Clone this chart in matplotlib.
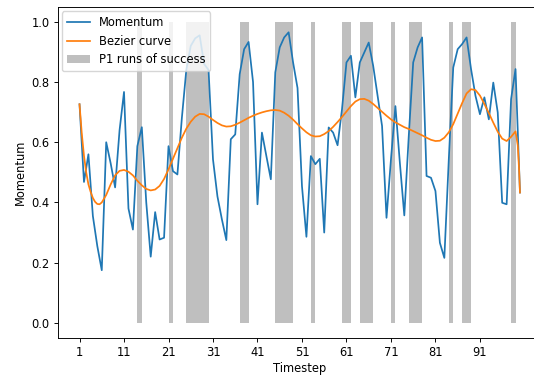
import numpy as np
import matplotlib
matplotlib.use("Agg")
import matplotlib.pyplot as plt

# Momentum per timestep (timesteps 1..100)
momentum = [0.726, 0.468, 0.56, 0.355, 0.255, 0.175, 0.60, 0.53, 0.45, 0.64,
            0.767, 0.38, 0.31, 0.587, 0.65, 0.40, 0.22, 0.368, 0.277, 0.283,
            0.587, 0.504, 0.493, 0.68, 0.84, 0.92, 0.945, 0.955, 0.86, 0.84,
            0.543, 0.42, 0.344, 0.275, 0.61, 0.626, 0.826, 0.909, 0.933, 0.80,
            0.394, 0.632, 0.554, 0.477, 0.832, 0.915, 0.948, 0.965, 0.865, 0.78,
            0.454, 0.286, 0.554, 0.527, 0.545, 0.30, 0.649, 0.632, 0.59, 0.71,
            0.865, 0.887, 0.749, 0.865, 0.898, 0.931, 0.854, 0.754, 0.654, 0.349,
            0.543, 0.72, 0.532, 0.357, 0.62, 0.865, 0.915, 0.948, 0.488, 0.482,
            0.438, 0.266, 0.216, 0.543, 0.848, 0.909, 0.926, 0.948, 0.843, 0.754,
            0.693, 0.749, 0.676, 0.798, 0.699, 0.399, 0.394, 0.743, 0.843, 0.433]

# Bezier curve
bezier_x = [1, 1.5, 2, 2.5, 3, 3.5, 4, 4.5, 5, 5.5, 6, 7, 8, 9, 10, 11, 12, 13,
            14, 15, 16, 17, 18, 19, 20, 21, 22, 23, 24, 25, 26, 27, 28, 29, 30,
            31, 32, 33, 34, 35, 36, 37, 38, 39, 40, 41, 42, 43, 44, 45, 46, 47,
            48, 49, 50, 51, 52, 53, 54, 55, 56, 57, 58, 59, 60, 61, 62, 63, 64,
            65, 66, 67, 68, 69, 70, 71, 72, 73, 74, 75, 76, 77, 78, 79, 80, 81,
            82, 83, 84, 85, 86, 87, 88, 89, 90, 91, 92, 93, 94, 95, 96, 97, 98,
            99, 99.5, 99.8, 100]
bezier_y = [0.726, 0.63, 0.555, 0.50, 0.46, 0.435, 0.415, 0.402, 0.395, 0.394,
            0.40, 0.425, 0.46, 0.49, 0.505, 0.508, 0.502, 0.49, 0.472, 0.457,
            0.445, 0.44, 0.443, 0.455, 0.478, 0.51, 0.545, 0.58, 0.615, 0.645,
            0.668, 0.685, 0.694, 0.693, 0.685, 0.674, 0.664, 0.656, 0.652, 0.653,
            0.658, 0.665, 0.673, 0.681, 0.688, 0.694, 0.699, 0.703, 0.706, 0.707,
            0.705, 0.698, 0.688, 0.675, 0.66, 0.646, 0.633, 0.623, 0.619, 0.62,
            0.627, 0.637, 0.651, 0.667, 0.684, 0.702, 0.72, 0.735, 0.743, 0.744,
            0.738, 0.727, 0.714, 0.701, 0.688, 0.676, 0.666, 0.658, 0.65, 0.644,
            0.637, 0.63, 0.623, 0.615, 0.608, 0.604, 0.605, 0.615, 0.633, 0.66,
            0.695, 0.73, 0.762, 0.776, 0.773, 0.755, 0.727, 0.697, 0.665, 0.635,
            0.612, 0.604, 0.618, 0.636, 0.59, 0.51, 0.433]

# P1 runs of success (first, last timestep of each run)
run_first = [14, 21, 25, 37, 45, 53, 60, 64, 71, 75, 84, 87, 98]
run_last = [15, 22, 30, 39, 49, 54, 62, 67, 72, 78, 85, 89, 99]

xtick_labels = [1, 11, 21, 31, 41, 51, 61, 71, 81, 91]

fs = 8.3
plt.rcParams.update({
    "font.size": fs,
    "axes.linewidth": 0.67,
    "xtick.major.width": 0.67,
    "ytick.major.width": 0.67,
    "xtick.major.size": 2.9,
    "ytick.major.size": 2.9,
    "xtick.major.pad": 2.9,
    "ytick.major.pad": 2.9,
})

fig = plt.figure(figsize=(5.34, 3.8), dpi=100)
ax = fig.add_axes([57.5 / 534, 42 / 380, (542 - 57.5) / 534, (338 - 6.7) / 380])

t = np.arange(1, len(momentum) + 1)
mask = np.zeros(len(t), dtype=bool)
for a, b in zip(run_first, run_last):
    mask[(t >= a) & (t <= b)] = True

ax.plot(t, momentum, color="#1f77b4", lw=1.25, label="Momentum")
ax.plot(bezier_x, bezier_y, color="#ff7f0e", lw=1.25, label="Bezier curve")
ax.fill_between(t, 0, 1, where=mask, color="gray", alpha=0.5, lw=0,
                label="P1 runs of success")

ax.set_xticks(xtick_labels)
ax.set_xticklabels([str(v) for v in xtick_labels])
ax.set_xlabel("Timestep", labelpad=2)
ax.set_ylabel("Momentum", labelpad=3)
ax.legend(loc="upper left", fontsize=fs, borderaxespad=0.4)

fig.savefig("out.png", dpi=100)
